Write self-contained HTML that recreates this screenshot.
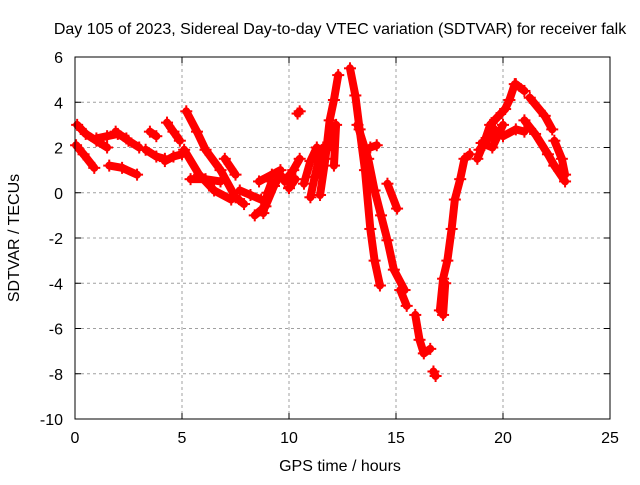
<!DOCTYPE html>
<html><head><meta charset="utf-8"><style>
body{margin:0;background:#fff;}
svg text{font-family:"Liberation Sans",sans-serif;font-size:16px;fill:#000;}
</style></head><body>
<svg id="chart" width="640" height="480">
<text x="340" y="34" text-anchor="middle">Day 105 of 2023, Sidereal Day-to-day VTEC variation (SDTVAR) for receiver falk</text>
<text x="340" y="471" text-anchor="middle">GPS time / hours</text>
<text transform="translate(19,238) rotate(-90)" text-anchor="middle">SDTVAR / TECUs</text>
<g id="grid"></g><g id="ticks"></g><g id="marks"></g>
<rect x="75" y="57" width="535" height="362" fill="none" stroke="#000" stroke-width="1"/>
</svg>
<script>
const xTicks=[0,5,10,15,20,25];
const yTicks=[-10,-8,-6,-4,-2,0,2,4,6];
// each track: [hour, TECU] pairs
const track01=[[0.1,3.0],[0.5,2.6],[1.0,2.3],[1.5,2.0]];
const track02=[[0.05,2.1],[0.4,1.7],[0.9,1.1]];
const track03=[[1.0,2.4],[1.5,2.5],[2.0,2.6],[2.4,2.4]];
const track04=[[1.6,1.2],[2.2,1.1],[2.9,0.8]];
const track05=[[1.9,2.7],[2.5,2.3],[3.0,2.0]];
const track06=[[3.3,1.9],[3.8,1.6],[4.2,1.5]];
const track07=[[3.5,2.7],[3.8,2.5]];
const track08=[[4.2,1.4],[4.6,1.6],[5.0,1.7]];
const track09=[[4.3,3.1],[4.6,2.7],[4.9,2.3]];
const track10=[[5.2,3.6],[5.7,2.7],[6.1,1.9],[6.8,1.0],[7.5,-0.2],[7.9,-0.5]];
const track11=[[5.1,1.9],[5.8,0.8],[6.5,0.1],[7.3,-0.3]];
const track12=[[5.4,0.6],[6.1,0.6],[6.8,0.5]];
const track13=[[7.0,1.5],[7.5,0.8]];
const track14=[[7.7,0.1],[8.2,-0.1],[8.7,-0.3]];
const track15=[[8.4,-1.0],[8.9,-0.6],[9.3,0.3],[9.6,0.8]];
const track16=[[8.6,0.5],[9.2,0.8],[9.6,1.0]];
const track17=[[9.8,0.5],[10.2,1.0],[10.5,1.5]];
const track18=[[10.4,3.5],[10.5,3.6]];
const track19=[[10.7,0.4],[11.0,1.4],[11.3,2.0]];
const track20=[[11.45,-0.1],[11.7,1.5],[11.9,3.2],[12.1,4.1],[12.3,5.2]];
const track21=[[12.85,5.5],[13.1,4.3],[13.3,2.8],[13.55,1.0],[13.8,-1.6],[14.0,-3.0],[14.25,-4.1]];
const track22=[[13.2,3.0],[13.7,1.5],[14.0,0.1],[14.3,-1.0],[14.6,-2.1],[14.9,-3.4],[15.4,-4.3]];
const track23=[[13.8,2.0],[14.1,2.1]];
const track24=[[14.6,0.4],[15.05,-0.7]];
const track25=[[15.2,-4.3],[15.5,-5.0]];
const track26=[[15.9,-5.4],[16.1,-6.5],[16.3,-7.1],[16.6,-6.9]];
const track27=[[16.75,-7.9],[16.85,-8.1]];
const track28=[[17.05,-5.2],[17.2,-3.8],[17.4,-3.0],[17.6,-1.6],[17.75,-0.3],[18.0,0.6],[18.2,1.5],[18.45,1.7]];
const track29=[[17.3,-4.0],[17.2,-5.4]];
const track30=[[18.8,1.5],[19.15,2.3],[19.4,3.0],[19.7,3.3],[20.1,3.7],[20.3,4.1],[20.55,4.8]];
const track31=[[18.9,1.9],[19.3,2.4],[19.6,2.8]];
const track32=[[20.0,2.5],[20.6,2.8],[21.0,2.7]];
const track33=[[20.6,4.8],[21.0,4.5]];
const track34=[[21.25,4.2],[21.95,3.4],[22.3,2.8]];
const track35=[[21.0,3.2],[21.5,2.6],[22.1,1.7],[22.4,1.2]];
const track36=[[22.4,2.3],[22.75,1.5],[22.9,0.8]];
const track37=[[22.4,1.2],[22.9,0.5]];
const track38=[[11.0,-0.2],[11.2,0.7],[11.4,1.5],[11.6,2.0]];
const track39=[[8.8,-0.9],[9.0,0.0],[9.2,0.5]];
const track40=[[10.0,0.2],[10.3,0.6]];
const track41=[[12.0,2.0],[12.2,3.0],[12.1,1.2]];
const track42=[[19.0,2.2],[19.5,2.0],[20.0,3.0]];
const tracks=[track01,track02,track03,track04,track05,track06,track07,track08,track09,track10,track11,track12,track13,track14,track15,track16,track17,track18,track19,track20,track21,track22,track23,track24,track25,track26,track27,track28,track29,track30,track31,track32,track33,track34,track35,track36,track37,track38,track39,track40,track41,track42];

const X0=75,X1=610,Y0=419,Y1=57;
function sx(t){return X0+(t-0)/(25-0)*(X1-X0);}
function sy(v){return Y0-(v+10)/(16)*(Y0-Y1);}
const NS="http://www.w3.org/2000/svg";
const grid=document.getElementById('grid'),ticks=document.getElementById('ticks'),marks=document.getElementById('marks');
function mk(tag,a,p){const e=document.createElementNS(NS,tag);for(const k in a)e.setAttribute(k,a[k]);p.appendChild(e);return e;}
xTicks.forEach(t=>{const x=sx(t);
 if(t>0&&t<25){const g=mk('line',{x1:x,x2:x,y1:Y1,y2:Y0,stroke:'#a0a0a0','stroke-dasharray':'3,3'},grid);
 
 }
 mk('line',{x1:x,x2:x,y1:Y0,y2:Y0-6,stroke:'#000'},ticks);
 mk('line',{x1:x,x2:x,y1:Y1,y2:Y1+6,stroke:'#000'},ticks);
 const l=mk('text',{x:x,y:Y0+24,'text-anchor':'middle'},ticks);l.textContent=t;
 
 });
yTicks.forEach(v=>{const y=sy(v);
 if(v>-10&&v<6){const g=mk('line',{x1:X0,x2:X1,y1:y,y2:y,stroke:'#a0a0a0','stroke-dasharray':'3,3'},grid);
 
 }
 mk('line',{x1:X0,x2:X0+6,y1:y,y2:y,stroke:'#000'},ticks);
 mk('line',{x1:X1,x2:X1-6,y1:y,y2:y,stroke:'#000'},ticks);
 const l=mk('text',{x:X0-12,y:y+6,'text-anchor':'end'},ticks);l.textContent=v;
 
 });
tracks.forEach((tr,i)=>{
 const g=mk('g',{},marks);
 
 
 for(let k=1;k<tr.length;k++){
  const s=mk('line',{x1:sx(tr[k-1][0]),y1:sy(tr[k-1][1]),x2:sx(tr[k][0]),y2:sy(tr[k][1]),stroke:'#ff0000','stroke-width':8,'stroke-linecap':'round'},g);
  
  
 }
 tr.forEach(p=>{const x=sx(p[0]),y=sy(p[1]);
  const h=mk('rect',{x:x-6,y:y-1,width:12,height:2,fill:'#ff0000'},g);
  
  
  const v=mk('rect',{x:x-1,y:y-6,width:2,height:12,fill:'#ff0000'},g);
  
  });
});
</script>
</body></html>
